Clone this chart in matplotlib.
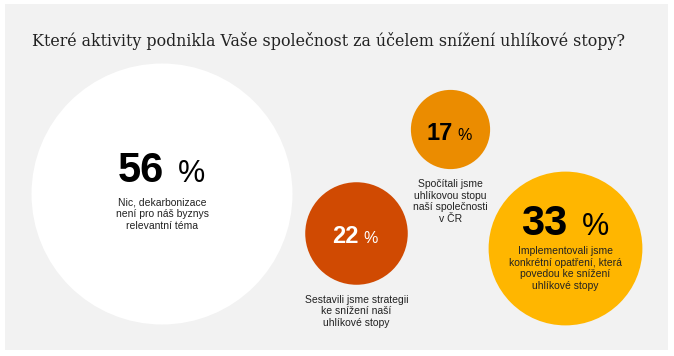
#!/usr/bin/env python3

import matplotlib.pyplot as plt
from matplotlib.patches import Circle, Rectangle

# data
title = "Které aktivity podnikla Vaše společnost za účelem snížení uhlíkové stopy?"
values = [56, 22, 17, 33]
labels = [
    "Nic, dekarbonizace\nnení pro náš byznys\nrelevantní téma",
    "Sestavili jsme strategii\nke snížení naší\nuhlíkové stopy",
    "Spočítali jsme\nuhlíkovou stopu\nnaší společnosti\nv ČR",
    "Implementovali jsme\nkonkrétní opatření, která\npovedou ke snížení\nuhlíkové stopy",
]

# layout / style (pixel units, y down)
centers = [(162, 194), (356.5, 233.5), (450.5, 129.5), (565.5, 248.5)]
colors = ["#ffffff", "#d04a02", "#eb8c00", "#ffb600"]
num_colors = ["#000000", "#ffffff", "#000000", "#000000"]
label_inside = [True, False, False, True]
num_size = [30, 17, 17, 30]
pct_size = [22, 11.5, 11.5, 22]
num_dy = [-11.5, 9.5, 11, -13.5]     # baseline offset from centre
label_dy = [15, 10, 10, 11]          # gap below baseline / below circle
px_per_unit = 2.33
title_width = 592


def main():
    fig = plt.figure(figsize=(6.74, 3.56), dpi=100)
    ax = fig.add_axes([0, 0, 1, 1])
    ax.set_xlim(0, 674)
    ax.set_ylim(356, 0)
    ax.axis("off")

    ax.add_patch(Rectangle((5, 4), 663, 346, facecolor="#f2f2f2", edgecolor="none"))
    t = ax.text(32, 46, title, fontsize=12, family="DejaVu Serif",
                color="#222222", va="baseline", ha="left")
    # fit title to the width of the original
    rend = fig.canvas.get_renderer()
    w = t.get_window_extent(rend).width
    t.set_fontsize(12 * title_width / w)

    sans = "Liberation Sans"
    for i, v in enumerate(values):
        cx, cy = centers[i]
        r = v * px_per_unit
        ax.add_patch(Circle((cx, cy), r, facecolor=colors[i], edgecolor="none"))

        base = cy + num_dy[i]
        gap = 16 if num_size[i] > 20 else 6.5
        ax.text(cx + 2, base, str(v), fontsize=num_size[i], fontweight="bold",
                family=sans, color=num_colors[i], ha="right", va="baseline")
        ax.text(cx + gap, base, "%", fontsize=pct_size[i], family=sans,
                color=num_colors[i], ha="left", va="baseline")

        if label_inside[i]:
            ty = base + label_dy[i]
        else:
            ty = cy + r + label_dy[i]
        ax.text(cx, ty, labels[i], fontsize=7.5, family=sans, color="#222222",
                ha="center", va="top", linespacing=1.2, multialignment="center")

    fig.savefig("out.png", dpi=100, facecolor="white")
    plt.close(fig)


if __name__ == "__main__":
    main()
